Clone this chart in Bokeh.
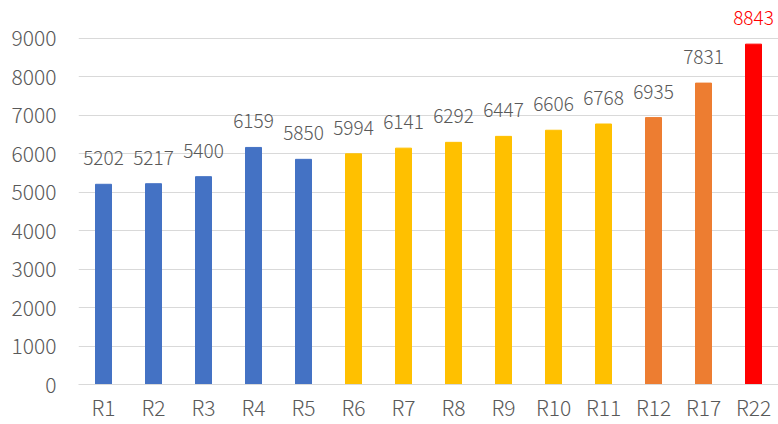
from bokeh.plotting import figure
from bokeh.models import ColumnDataSource, FixedTicker, Range1d
from bokeh.core.properties import value
from bokeh.embed import file_html
from bokeh.resources import INLINE

categories = ["R1", "R2", "R3", "R4", "R5", "R6", "R7", "R8", "R9", "R10", "R11", "R12", "R17", "R22"]
values = [5202, 5217, 5400, 6159, 5850, 5994, 6141, 6292, 6447, 6606, 6768, 6935, 7831, 8843]
bar_colors = ["#4472C4"] * 5 + ["#FFC000"] * 6 + ["#ED7D31"] * 2 + ["#FF0000"]
label_colors = ["#595959"] * 13 + ["#FF0000"]
y_ticks = [0, 1000, 2000, 3000, 4000, 5000, 6000, 7000, 8000, 9000]

src = ColumnDataSource(dict(cat=categories, val=values, color=bar_colors,
                            lab=[str(v) for v in values], lcol=label_colors))

FONT = "'Noto Sans CJK JP Light', 'Noto Sans CJK JP'"

p = figure(x_range=categories, y_range=Range1d(0, 9977),
           width=778, height=424,
           output_backend="svg", toolbar_location=None,
           min_border_left=78, min_border_right=0, min_border_top=0, min_border_bottom=39)
p.outline_line_color = None
p.background_fill_color = "white"

p.vbar(x="cat", top="val", width=0.32, color="color", source=src)
p.text(x="cat", y="val", text="lab", text_color="lcol", source=src,
       text_align="center", text_baseline="alphabetic", y_offset=-26,
       text_font=value(FONT), text_font_size="19px")

p.yaxis.ticker = FixedTicker(ticks=y_ticks)
p.ygrid.ticker = FixedTicker(ticks=y_ticks)
p.ygrid.grid_line_color = "#D9D9D9"
p.ygrid.grid_line_width = 1
p.xgrid.grid_line_color = None

for ax in (p.xaxis, p.yaxis):
    ax.major_tick_line_color = None
    ax.minor_tick_line_color = None
    ax.major_tick_out = 0
    ax.major_tick_in = 0
    ax.major_label_text_color = "#595959"
    ax.major_label_text_font = FONT
    ax.major_label_text_font_size = "21px"
p.yaxis.axis_line_color = None
p.xaxis.axis_line_color = "#D9D9D9"
p.yaxis.major_label_standoff = 22
p.xaxis.major_label_standoff = 7

open("out.html", "w").write(file_html(p, INLINE))
